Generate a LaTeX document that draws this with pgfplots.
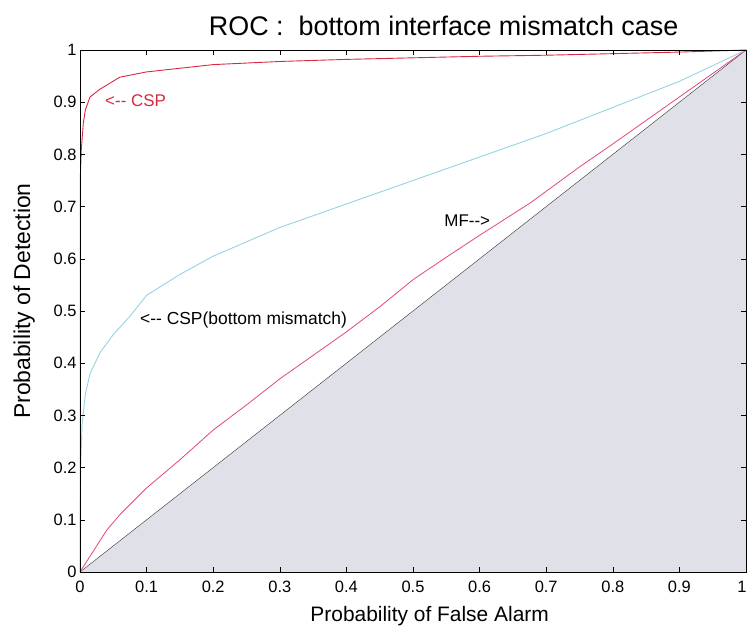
\documentclass[border=0pt]{standalone}
\usepackage{pgfplots}
\pgfplotsset{compat=1.18}
\usepackage{fontspec}
\setmainfont{Liberation Sans}
\definecolor{cspred}{RGB}{214,40,64}
\definecolor{cspblue}{RGB}{150,210,228}
\definecolor{mfpink}{RGB}{226,70,130}
\definecolor{shade}{RGB}{224,224,232}
\begin{document}
\begin{tikzpicture}
\begin{axis}[name=ax,
  scale only axis, width=666bp, height=522bp,
  xmin=0, xmax=1, ymin=0, ymax=1,
  xtick={0,0.1,...,1}, ytick={0,0.1,...,1},
  xticklabels={0,0.1,0.2,0.3,0.4,0.5,0.6,0.7,0.8,0.9,\kern-4bp 1\kern4bp},
  yticklabels={0,0.1,0.2,0.3,0.4,0.5,0.6,0.7,0.8,0.9,1},
  tick align=inside, major tick length=5bp,
  tick style={black, thin},
  axis line style={black, line width=0.9pt},
  ticklabel style={font=\fontsize{16.5}{18}\selectfont},
  xticklabel style={yshift=-6bp},
  xlabel={Probability of False Alarm},
  ylabel={Probability of Detection},
  xlabel style={font=\fontsize{21}{24}\selectfont, at={(axis description cs:0.525,0)}, anchor=base, yshift=-49bp},
  ylabel style={font=\fontsize{23}{26}\selectfont, at={(axis description cs:-0.075,0.519)}, anchor=base},
  title={ROC :\ \ bottom interface mismatch case},
  title style={font=\fontsize{27}{30}\selectfont, at={(axis description cs:0.546,1)}, anchor=base, yshift=9bp},
  axis on top,
]
\addplot[fill=shade, draw=none] coordinates {(0,0) (1,0) (1,1)} -- cycle;
\addplot[black!80, line width=0.4pt] coordinates {(0,0) (1,1)};
\addplot[mfpink, line width=0.8pt] coordinates {
 (0,0) (0.02,0.04) (0.04,0.08) (0.06,0.11) (0.1,0.161) (0.15,0.215) (0.2,0.272)
 (0.25,0.32) (0.3,0.37) (0.35,0.415) (0.4,0.46) (0.45,0.508) (0.5,0.56)
 (0.55,0.603) (0.6,0.645) (0.676,0.707) (0.75,0.776) (0.8,0.82) (0.9,0.91) (1,1)};
\addplot[cspblue, line width=0.9pt] coordinates {
 (0,0) (0.001,0.2) (0.003,0.28) (0.008,0.34) (0.015,0.38) (0.03,0.42)
 (0.05,0.455) (0.075,0.49) (0.1,0.53) (0.15,0.57) (0.2,0.605) (0.3,0.66)
 (0.4,0.705) (0.5,0.75) (0.6,0.795) (0.7,0.84) (0.8,0.89) (0.9,0.94) (1,1)};
\addplot[cspred, line width=0.9pt] coordinates {
 (0,0) (0,0.74) (0.002,0.81) (0.005,0.86) (0.008,0.885) (0.015,0.91)
 (0.03,0.925) (0.06,0.948) (0.1,0.958) (0.2,0.972) (0.3,0.978) (0.4,0.982)
 (0.5,0.985) (0.6,0.988) (0.7,0.99) (0.8,0.993) (0.9,0.996) (1,1)};
\node[anchor=base west, text=cspred, font=\fontsize{17}{18}\selectfont] at (axis cs:0.0326,0.891) {<{-}{-} CSP};
\node[anchor=base west, font=\fontsize{17.5}{18}\selectfont] at (axis cs:0.085,0.475) {<{-}{-} CSP(bottom mismatch)};
\node[anchor=base west, font=\fontsize{17}{18}\selectfont] at (axis cs:0.542,0.661) {MF{-}{-}>};
\end{axis}
\pgfresetboundingbox
\path[use as bounding box] ([xshift=-80bp,yshift=-60bp]ax.south west) rectangle ([xshift=3bp,yshift=50bp]ax.north east);
\end{tikzpicture}
\end{document}
